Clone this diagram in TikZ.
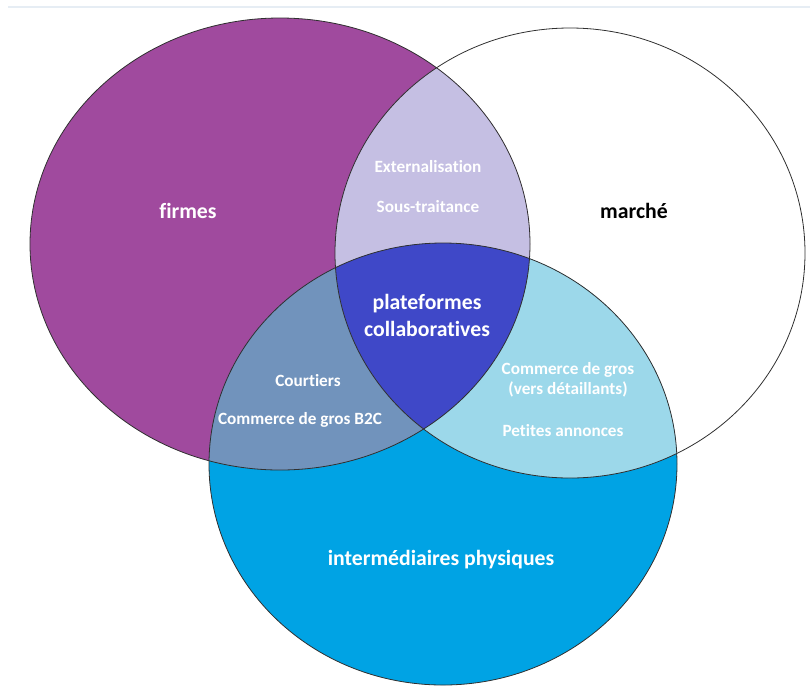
\documentclass[tikz,border=0pt]{standalone}
\usepackage{fontspec}
\setmainfont{Carlito}[Ligatures=NoCommon]
\definecolor{firmcol}{HTML}{A04A9E}
\definecolor{intercol}{HTML}{00A3E4}
\definecolor{abcol}{HTML}{C5BFE3}
\definecolor{accol}{HTML}{7193BC}
\definecolor{bccol}{HTML}{9CD8EA}
\definecolor{abccol}{HTML}{3F48C8}
\definecolor{edgecol}{HTML}{303030}
\definecolor{topline}{HTML}{E6EDF4}
\begin{document}
\begin{tikzpicture}[x=0.75pt,y=-0.75pt,
  lbl/.style={font=\bfseries\fontsize{12.9}{15}\selectfont, text=white, align=center},
  big/.style={font=\bfseries\fontsize{16.3}{20.25}\selectfont, text=white, align=center},
  outline/.style={draw=edgecol, line width=0.6pt}]
\useasboundingbox (0,0) rectangle (810,687);
\coordinate (cA) at (280,244);
\coordinate (cB) at (570,253);
\coordinate (cC) at (443,464);
\def\ellA{(cA) ellipse [x radius=187.5pt, y radius=169.5pt]}
\def\ellB{(cB) ellipse [x radius=176.25pt, y radius=168.75pt]}
\def\ellC{(cC) ellipse [x radius=175.5pt, y radius=165.75pt]}
% faint top rule
\coordinate (tl) at (8,7);
\coordinate (tr) at (810,7);
\draw[topline, line width=0.8pt] (tl) -- (tr);
% base fills
\fill[firmcol] \ellA;
\fill[intercol] \ellC;
% pairwise intersections
\begin{scope}
  \clip \ellA; \fill[abcol] \ellB;
\end{scope}
\begin{scope}
  \clip \ellA; \fill[accol] \ellC;
\end{scope}
\begin{scope}
  \clip \ellB; \fill[bccol] \ellC;
\end{scope}
\begin{scope}
  \clip \ellA; \clip \ellB; \fill[abccol] \ellC;
\end{scope}
% outlines
\draw[outline] \ellA;
\draw[outline] \ellB;
\draw[outline] \ellC;
% labels
\node[big] (firmes) at (188,211) {firmes};
\node[big, text=black] (marche) at (634,211) {marché};
\node[big] (plat) at (427,315) {plateformes\\collaboratives};
\node[big] (inter) at (441,560) {intermédiaires physiques};
\node[lbl] (ext) at (428,167) {Externalisation};
\node[lbl] (sous) at (428,207) {Sous-traitance};
\node[lbl] (court) at (308,381) {Courtiers};
\node[lbl] (cgb2c) at (300,420) {Commerce de gros B2C};
\node[lbl] (cgdet) at (568,380) {Commerce de gros\\(vers détaillants)};
\node[lbl] (pet) at (563,431) {Petites annonces};
\end{tikzpicture}
\end{document}
